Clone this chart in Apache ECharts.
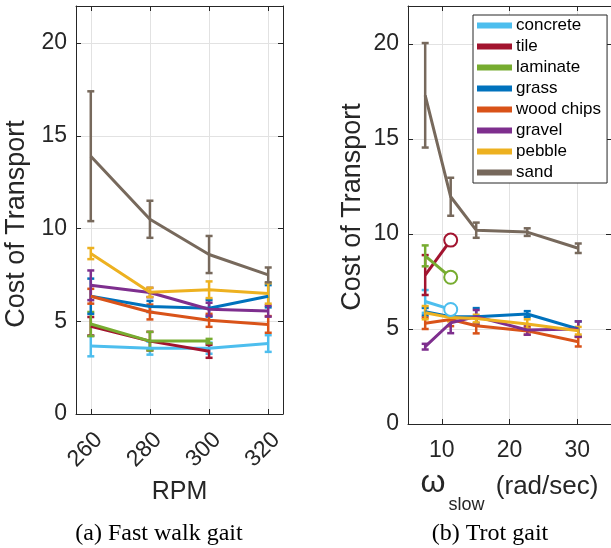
<!DOCTYPE html>
<html><head><meta charset="utf-8">
<script src="https://cdn.jsdelivr.net/npm/echarts@6/dist/echarts.min.js"></script>
<style>html,body{margin:0;padding:0;background:#fff}#c{width:611px;height:548px}</style>
</head><body><div id="c"></div>
<script>
// ---- data ----
const surfaces = ['concrete','tile','laminate','grass','wood chips','gravel','pebble','sand'];
const surfaceColors = ['#4DBEEE','#A2142F','#77AC30','#0072BD','#D95319','#7E2F8E','#EDB120','#77695C'];

// (a) fast walk gait, x = RPM
const rpm = [260, 280, 300, 320];
const walkConcrete = [3.66, 3.55, 3.55, 3.80];
const walkConcreteErr = [0.55, 0.35, 0.30, 0.45];
const walkTile = [4.73, 3.93, 3.38];
const walkTileErr = [0.50, 0.50, 0.35];
const walkLaminate = [4.85, 3.93, 3.93];
const walkLaminateErr = [0.65, 0.50, 0.12];
const walkGrass = [6.35, 5.80, 5.70, 6.35];
const walkGrassErr = [0.95, 0.30, 0.45, 0.60];
const walkWoodChips = [6.35, 5.50, 5.05, 4.83];
const walkWoodChipsErr = [0.40, 0.40, 0.35, 0.45];
const walkGravel = [6.94, 6.55, 5.65, 5.55];
const walkGravelErr = [0.80, 0.25, 0.35, 0.30];
const walkPebble = [8.65, 6.56, 6.70, 6.50];
const walkPebbleErr = [0.30, 0.25, 0.45, 0.55];
const walkSand = [13.9, 10.5, 8.6, 7.5];
const walkSandErr = [3.5, 1.0, 1.0, 0.4];

// (b) trot gait, x = omega_slow (rad/sec)
const omegaSlow = [7.54, 11.31, 15.08, 22.62, 30.16];
const trotConcrete = [6.45, 6.03];
const trotConcreteErr = [0.60, 0];
const trotTile = [7.84, 9.68];
const trotTileErr = [1.05, 0];
const trotLaminate = [8.85, 7.72];
const trotLaminateErr = [0.55, 0];
const trotGrass = [5.91, 5.65, 5.65, 5.79, 5.00];
const trotGrassErr = [0.20, 0.20, 0.45, 0.15, 0.40];
const trotWoodChips = [5.30, 5.50, 5.17, 4.90, 4.33];
const trotWoodChipsErr = [0.30, 0.35, 0.40, 0.20, 0.25];
const trotGravel = [4.07, 5.33, 5.65, 4.95, 5.00];
const trotGravelErr = [0.15, 0.55, 0.35, 0.25, 0.40];
const trotPebble = [5.86, 5.60, 5.55, 5.26, 4.91];
const trotPebbleErr = [0.35, 0.20, 0.20, 0.25, 0.20];
const trotSand = [17.3, 11.96, 10.2, 10.1, 9.25];
const trotSandErr = [2.75, 1.0, 0.4, 0.2, 0.25];
// runs whose last point is marked with an open circle
const trotCircleEnd = ['concrete', 'tile', 'laminate'];

const yTicks = [0, 5, 10, 15, 20];
const rpmTicks = [260, 280, 300, 320];
const omegaTicks = [10, 20, 30];

const walkMeans = [walkConcrete, walkTile, walkLaminate, walkGrass, walkWoodChips, walkGravel, walkPebble, walkSand];
const walkErrs = [walkConcreteErr, walkTileErr, walkLaminateErr, walkGrassErr, walkWoodChipsErr, walkGravelErr, walkPebbleErr, walkSandErr];
const trotMeans = [trotConcrete, trotTile, trotLaminate, trotGrass, trotWoodChips, trotGravel, trotPebble, trotSand];
const trotErrs = [trotConcreteErr, trotTileErr, trotLaminateErr, trotGrassErr, trotWoodChipsErr, trotGravelErr, trotPebbleErr, trotSandErr];

// ---- chart ----
const FONT = '"Liberation Sans", Arial, Helvetica, sans-serif';
const SERIF = '"Liberation Serif", "Times New Roman", serif';
const AX = '#262626';
const GRIDC = '#e2e2e2';
const series = [];

function addSurface(xs, means, errs, gridIdx, idx, circleEnd) {
  const color = surfaceColors[idx];
  const ax = gridIdx * 2;
  const lineData = means.map((m, i) => {
    const item = { value: [xs[i], m] };
    if (circleEnd && i === means.length - 1) { item.symbol = 'emptyCircle'; item.symbolSize = 13; }
    return item;
  });
  series.push({
    type: 'line', name: surfaces[idx], xAxisIndex: ax, yAxisIndex: ax,
    data: lineData, symbol: 'none', showSymbol: true,
    lineStyle: { color: color, width: 3 },
    itemStyle: { color: color, borderWidth: 3, borderColor: color },
    silent: true, animation: false
  });
  const errData = [];
  means.forEach((m, i) => { if (errs[i] > 0) errData.push([xs[i], m - errs[i], m + errs[i]]); });
  series.push({
    type: 'custom', name: surfaces[idx] + ' error', xAxisIndex: ax, yAxisIndex: ax,
    data: errData, encode: { x: 0, y: [1, 2] }, silent: true, animation: false,
    renderItem: function (params, api) {
      const x = api.value(0);
      const pLo = api.coord([x, api.value(1)]);
      const pHi = api.coord([x, api.value(2)]);
      const w = 3.5;
      const st = { stroke: color, lineWidth: 2.5 };
      return { type: 'group', children: [
        { type: 'line', shape: { x1: pLo[0], y1: pLo[1], x2: pHi[0], y2: pHi[1] }, style: st },
        { type: 'line', shape: { x1: pLo[0] - w, y1: pLo[1], x2: pLo[0] + w, y2: pLo[1] }, style: st },
        { type: 'line', shape: { x1: pHi[0] - w, y1: pHi[1], x2: pHi[0] + w, y2: pHi[1] }, style: st }
      ]};
    }
  });
}
surfaces.forEach((s, i) => addSurface(rpm, walkMeans[i], walkErrs[i], 0, i, false));
surfaces.forEach((s, i) => addSurface(omegaSlow, trotMeans[i], trotErrs[i], 1, i, trotCircleEnd.indexOf(s) >= 0));

function mainX(gridIndex, min, max, ticks, extra) {
  return Object.assign({
    type: 'value', gridIndex: gridIndex, min: min, max: max, position: 'bottom',
    axisLine: { show: true, onZero: false, lineStyle: { color: AX, width: 1 } },
    axisTick: { show: true, inside: true, length: 5, customValues: ticks, lineStyle: { color: AX } },
    splitLine: { show: true, lineStyle: { color: GRIDC, width: 1 } },
    nameLocation: 'middle'
  }, extra);
}
function boxAxis(gridIndex, min, max, ticks, pos) {
  return {
    type: 'value', gridIndex: gridIndex, min: min, max: max, position: pos,
    axisLine: { show: true, onZero: false, lineStyle: { color: AX, width: 1 } },
    axisTick: { show: true, inside: true, length: 5, customValues: ticks, lineStyle: { color: AX } },
    axisLabel: { show: false }, splitLine: { show: false }
  };
}
function mainY(gridIndex, extra, namePad) {
  return Object.assign({
    type: 'value', gridIndex: gridIndex, min: 0, max: 22, position: 'left',
    axisLine: { show: true, onZero: false, lineStyle: { color: AX, width: 1 } },
    axisTick: { show: true, inside: true, length: 5, customValues: yTicks, lineStyle: { color: AX } },
    axisLabel: { customValues: yTicks, fontSize: 23, fontFamily: FONT, color: AX, margin: 9 },
    splitLine: { show: true, lineStyle: { color: GRIDC, width: 1 } },
    name: 'Cost of Transport', nameLocation: 'middle',
    nameTextStyle: { fontSize: 27, fontFamily: FONT, color: AX, padding: namePad }
  }, extra);
}

const option = {
  backgroundColor: '#fff',
  animation: false,
  grid: [
    { left: 76, top: 6, width: 207, height: 408 },
    { left: 408, top: 6, width: 207, height: 418 }
  ],
  xAxis: [
    mainX(0, 255, 325, rpmTicks, {
      axisLabel: { customValues: rpmTicks, rotate: 45, align: 'right', verticalAlign: 'top', fontSize: 23, fontFamily: FONT, color: AX, margin: 14 },
      name: 'RPM', nameGap: 66, nameTextStyle: { fontSize: 25, fontFamily: FONT, color: AX }
    }),
    boxAxis(0, 255, 325, rpmTicks, 'top'),
    mainX(1, 5, 35, omegaTicks, {
      axisLabel: { customValues: omegaTicks, fontSize: 23, fontFamily: FONT, color: AX, margin: 15 },
      name: '{w|ω}{s|slow}{r| (rad/sec)}', nameGap: 30,
      nameTextStyle: { color: AX, fontFamily: FONT, rich: {
        w: { fontSize: 32, fontFamily: FONT, color: AX, verticalAlign: 'bottom', padding: [0, 3, 15, 0] },
        s: { fontSize: 18, fontFamily: FONT, color: AX, verticalAlign: 'bottom', padding: [0, 4, 0, 0] },
        r: { fontSize: 26, fontFamily: FONT, color: AX, verticalAlign: 'bottom', padding: [0, 0, 14, 0] }
      } }
    }),
    boxAxis(1, 5, 35, omegaTicks, 'top')
  ],
  yAxis: [
    mainY(0, { nameGap: 46 }, [0, 28, 0, 0]),
    boxAxis(0, 0, 22, yTicks, 'right'),
    mainY(1, { nameGap: 42 }, [0, 0, 0, 16]),
    boxAxis(1, 0, 22, yTicks, 'right')
  ],
  legend: {
    data: surfaces, orient: 'vertical', left: 473, top: 15,
    icon: 'rect', itemWidth: 33, itemHeight: 4, itemGap: 4,
    padding: [2, 6, 2, 4], borderColor: AX, borderWidth: 1, backgroundColor: '#fff',
    selectedMode: false,
    textStyle: { fontSize: 17, fontFamily: FONT, color: '#000', lineHeight: 17 }
  },
  graphic: [
    { type: 'text', x: 159, y: 534, style: { text: '(a) Fast walk gait', font: '24px ' + SERIF, fill: '#000', textAlign: 'center', textVerticalAlign: 'middle' } },
    { type: 'text', x: 490, y: 534, style: { text: '(b) Trot gait', font: '24px ' + SERIF, fill: '#000', textAlign: 'center', textVerticalAlign: 'middle' } }
  ],
  series: series
};
const chart = echarts.init(document.getElementById('c'), null, { renderer: 'canvas' });
chart.setOption(option);
</script>
</body></html>
